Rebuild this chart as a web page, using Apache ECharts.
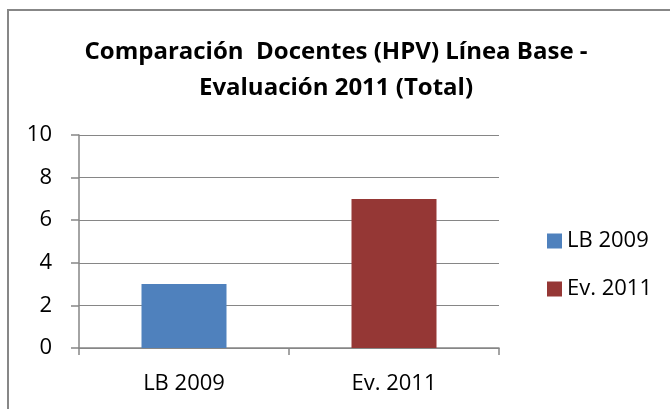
<!DOCTYPE html>
<html lang="es">
<head>
    <meta charset="UTF-8">
    <title>Comparación Docentes</title>
    <script type="text/javascript" src="https://cdn.jsdelivr.net/npm/echarts@6/dist/echarts.min.js"></script>
    <style>
        html, body { margin: 0; padding: 0; background: #fff; }
    </style>
</head>
<body>
<div id="chart" style="width: 670px;height: 409px;"></div>
<script type="text/javascript">
    var categories = ['LB 2009', 'Ev. 2011'];
    var seriesNames = ['LB 2009', 'Ev. 2011'];
    var seriesValues = [3, 7];
    var colors = ['#4F81BD', '#953735'];
    var yTicks = [0, 2, 4, 6, 8, 10];

    var myChart = echarts.init(document.getElementById('chart'));
    var font = '"Open Sans", "Noto Sans", sans-serif';

    // una serie por categoría para que la leyenda muestre ambos colores
    var series = [];
    for (var i = 0; i < seriesNames.length; i++) {
        var d = [];
        for (var j = 0; j < categories.length; j++) {
            d.push(j === i ? seriesValues[i] : '-');
        }
        series.push({
            name: seriesNames[i],
            type: 'bar',
            stack: 'total',
            barWidth: 85,
            itemStyle: { color: colors[i] },
            data: d
        });
    }

    var option = {
        backgroundColor: '#fff',
        animation: false,
        title: {
            text: 'Comparación  Docentes (HPV) Línea Base -\nEvaluación 2011 (Total)',
            left: 331,
            top: 29,
            textAlign: 'center',
            textStyle: {
                fontFamily: font,
                fontSize: 24,
                fontWeight: 'bold',
                color: '#000',
                lineHeight: 36
            }
        },
        legend: {
            orient: 'vertical',
            left: 542,
            top: 225,
            itemWidth: 15,
            itemHeight: 15,
            itemGap: 26,
            icon: 'rect',
            textStyle: { fontFamily: font, fontSize: 22, color: '#000' },
            data: seriesNames
        },
        grid: {
            left: 79,
            top: 135,
            width: 420,
            height: 213,
            containLabel: false
        },
        xAxis: {
            type: 'category',
            data: categories,
            axisLine: { lineStyle: { color: '#868686', width: 1.5 } },
            axisTick: { show: true, length: 7, lineStyle: { color: '#868686', width: 1.5 } },
            axisLabel: { fontFamily: font, fontSize: 22, color: '#000', margin: 25 }
        },
        yAxis: {
            type: 'value',
            min: yTicks[0],
            max: yTicks[yTicks.length - 1],
            interval: 2,
            axisLine: { show: true, lineStyle: { color: '#868686', width: 1.5 } },
            axisTick: { show: true, length: 8, lineStyle: { color: '#868686', width: 1.5 } },
            splitLine: { lineStyle: { color: '#868686', width: 1.2 } },
            axisLabel: { fontFamily: font, fontSize: 22, color: '#000', margin: 27 }
        },
        graphic: [{
            type: 'rect',
            shape: { x: 8, y: 10, width: 700, height: 450 },
            style: { fill: 'none', stroke: '#878787', lineWidth: 2 },
            silent: true
        }],
        series: series
    };
    myChart.setOption(option);
</script>
</body>
</html>
